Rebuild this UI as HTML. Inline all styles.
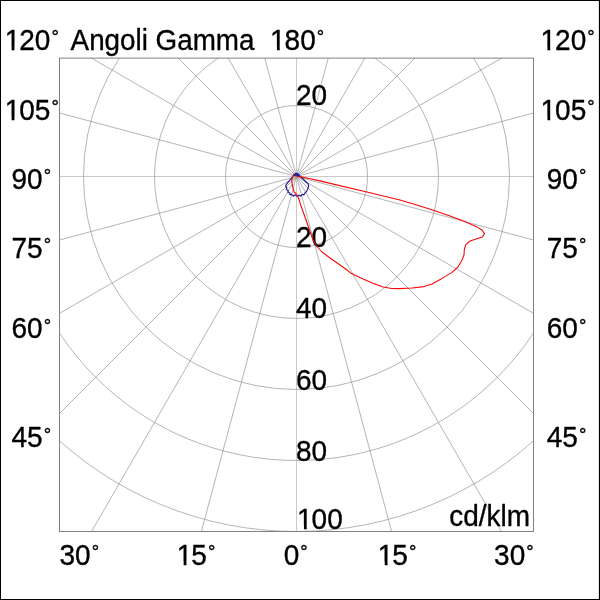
<!DOCTYPE html><html><head><meta charset="utf-8"><title>Angoli Gamma</title>
<style>html,body{margin:0;padding:0;background:#fff;overflow:hidden}svg{display:block}text{font-family:"Liberation Sans",Arial,Helvetica,sans-serif;fill:#000}</style></head><body>
<svg width="600" height="600" viewBox="0 0 600 600">
<rect x="0" y="0" width="600" height="600" fill="#fff"/>
<defs><clipPath id="c"><rect x="59.5" y="58.1" width="474.0" height="473.4"/></clipPath></defs>
<g clip-path="url(#c)" fill="none" stroke="#959595" stroke-width="0.7">
<circle cx="296.5" cy="176.5" r="71.00"/>
<circle cx="296.5" cy="176.5" r="142.00"/>
<circle cx="296.5" cy="176.5" r="213.00"/>
<circle cx="296.5" cy="176.5" r="284.00"/>
<circle cx="296.5" cy="176.5" r="355.00"/>
<line x1="296.50" y1="-723.50" x2="296.50" y2="1076.50" stroke-width="0.5"/>
<line x1="63.56" y1="-692.83" x2="529.44" y2="1045.83"/>
<line x1="-153.50" y1="-602.92" x2="746.50" y2="955.92"/>
<line x1="-339.90" y1="-459.90" x2="932.90" y2="812.90"/>
<line x1="-482.92" y1="-273.50" x2="1075.92" y2="626.50"/>
<line x1="-572.83" y1="-56.44" x2="1165.83" y2="409.44"/>
<line x1="-603.50" y1="176.50" x2="1196.50" y2="176.50" stroke-width="0.5"/>
<line x1="-572.83" y1="409.44" x2="1165.83" y2="-56.44"/>
<line x1="-482.92" y1="626.50" x2="1075.92" y2="-273.50"/>
<line x1="-339.90" y1="812.90" x2="932.90" y2="-459.90"/>
<line x1="-153.50" y1="955.92" x2="746.50" y2="-602.92"/>
<line x1="63.56" y1="1045.83" x2="529.44" y2="-692.83"/>
</g>
<rect x="59.5" y="58.1" width="474.0" height="473.4" fill="none" stroke="#808080" stroke-width="1"/>
<defs><filter id="gs" x="0" y="0" width="600" height="600" filterUnits="userSpaceOnUse"><feColorMatrix type="saturate" values="0"/></filter></defs>
<g filter="url(#gs)" stroke="#000" stroke-width="0.35" stroke-linejoin="round">
<defs><clipPath id="k1" clipPathUnits="userSpaceOnUse"><path clip-rule="evenodd" d="M-50 -60H900V40H-50Z M2.294 -3.052H8.192V2H2.294Z M11.037 -3.052H16.711V2H11.037Z"/></clipPath></defs>
<text transform="translate(3.70,49.80) scale(0.9722,1)" font-size="28.8" clip-path="url(#k1)"><tspan dx="1.1">1</tspan><tspan dx="-1.1">20</tspan></text>
<text x="51.52" y="43.32" font-size="18.5">°</text>
<text transform="translate(70.60,49.80) scale(0.9654,1)" font-size="28.8">Angoli Gamma</text>
<text transform="translate(269.00,49.80) scale(0.9722,1)" font-size="28.8" clip-path="url(#k1)"><tspan dx="1.1">1</tspan><tspan dx="-1.1">80</tspan></text>
<text x="316.82" y="43.32" font-size="18.5">°</text>
<text transform="translate(539.50,49.80) scale(0.9722,1)" font-size="28.8" clip-path="url(#k1)"><tspan dx="1.1">1</tspan><tspan dx="-1.1">20</tspan></text>
<text x="587.32" y="43.32" font-size="18.5">°</text>
<text transform="translate(3.70,119.70) scale(0.9722,1)" font-size="28.8" clip-path="url(#k1)"><tspan dx="1.1">1</tspan><tspan dx="-1.1">05</tspan></text>
<text x="51.52" y="113.22" font-size="18.5">°</text>
<text transform="translate(539.50,119.70) scale(0.9722,1)" font-size="28.8" clip-path="url(#k1)"><tspan dx="1.1">1</tspan><tspan dx="-1.1">05</tspan></text>
<text x="587.32" y="113.22" font-size="18.5">°</text>
<text transform="translate(11.40,188.50) scale(0.9722,1)" font-size="28.8">90</text>
<text x="43.65" y="182.02" font-size="18.5">°</text>
<text transform="translate(546.80,188.50) scale(0.9722,1)" font-size="28.8">90</text>
<text x="579.05" y="182.02" font-size="18.5">°</text>
<text transform="translate(11.40,257.80) scale(0.9722,1)" font-size="28.8">75</text>
<text x="43.65" y="251.32" font-size="18.5">°</text>
<text transform="translate(546.80,257.80) scale(0.9722,1)" font-size="28.8">75</text>
<text x="579.05" y="251.32" font-size="18.5">°</text>
<text transform="translate(11.40,338.00) scale(0.9722,1)" font-size="28.8">60</text>
<text x="43.65" y="331.52" font-size="18.5">°</text>
<text transform="translate(546.80,338.00) scale(0.9722,1)" font-size="28.8">60</text>
<text x="579.05" y="331.52" font-size="18.5">°</text>
<text transform="translate(11.40,447.00) scale(0.9722,1)" font-size="28.8">45</text>
<text x="43.65" y="440.52" font-size="18.5">°</text>
<text transform="translate(546.80,447.00) scale(0.9722,1)" font-size="28.8">45</text>
<text x="579.05" y="440.52" font-size="18.5">°</text>
<text transform="translate(59.40,564.80) scale(0.9722,1)" font-size="28.8">30</text>
<text x="91.65" y="558.32" font-size="18.5">°</text>
<text transform="translate(175.70,564.80) scale(0.9722,1)" font-size="28.8" clip-path="url(#k1)"><tspan dx="1.1">1</tspan><tspan dx="-1.1">5</tspan></text>
<text x="207.95" y="558.32" font-size="18.5">°</text>
<text transform="translate(283.70,564.80) scale(0.9722,1)" font-size="28.8">0</text>
<text x="300.37" y="558.32" font-size="18.5">°</text>
<text transform="translate(376.80,564.80) scale(0.9722,1)" font-size="28.8" clip-path="url(#k1)"><tspan dx="1.1">1</tspan><tspan dx="-1.1">5</tspan></text>
<text x="409.05" y="558.32" font-size="18.5">°</text>
<text transform="translate(494.10,564.80) scale(0.9722,1)" font-size="28.8">30</text>
<text x="526.35" y="558.32" font-size="18.5">°</text>
<text transform="translate(296.00,105.10) scale(0.9722,1)" font-size="28.8">20</text>
<text transform="translate(296.00,246.50) scale(0.9722,1)" font-size="28.8">20</text>
<text transform="translate(296.00,317.60) scale(0.9722,1)" font-size="28.8">40</text>
<text transform="translate(296.00,390.10) scale(0.9722,1)" font-size="28.8">60</text>
<text transform="translate(296.00,461.30) scale(0.9722,1)" font-size="28.8">80</text>
<text transform="translate(296.00,528.50) scale(0.9722,1)" font-size="28.8" clip-path="url(#k1)"><tspan dx="1.1">1</tspan><tspan dx="-1.1">00</tspan></text>
<text transform="translate(449.20,526.30) scale(0.9722,1)" font-size="28.8">cd/klm</text>
</g>
<g clip-path="url(#c)" fill="none" stroke-linejoin="round">
<polyline stroke="#261e96" stroke-width="1.2" points="293,176.3 286.3,184.3 285.6,186.4 286.9,187.9 286.3,189.5 288.2,190.5 288.0,192.5 289.9,192.8 289.8,194.6 291.7,194.4 293.3,196.2 295,194.8 297,196.4 299,195.1 300.7,196.2 302.3,194.4 303.8,195.0 304.8,193.2 306.0,192.0 306.8,190.8 307.7,189.2 308.0,187.8 308.7,186.3 308.4,185 308,183.7 300,176.3"/>
<polyline stroke="#f80808" stroke-width="1.1" points="293.6,174.3 295.5,175.6 298.5,176.4 302,177.1 310,178.8 320,180.9 333.3,184.1 365.8,191.7 400,200 420,206 434,210.4 450,216 466,222 476,226.4 482,230 484.4,233.6 482.4,237 476,239 470,241 466,244.4 464.4,249 464,255 462,260 458,267 452,272.4 442,278.4 432,284 424,286.6 412,288 400,288.6 391.8,288.5 383.1,287 372.3,283.1 361.5,278.3 350.6,272.9 345,268.5 330,258 322,252 317,246.5 313,240 308.5,227 302.5,210 300.7,205 299.3,200.3 297.7,196.3 295.7,193.2 294.2,192.2 293.3,189 292.3,185 291.7,181 292.3,178.3 293.6,174.3"/>
<path d="M293.9 175.7L294.3 174.0L295.8 173.1L298 173.4L299.5 174.7L299.8 176.1L297.5 175.7L295.6 175.5Z" fill="#261e96" stroke="#261e96" stroke-width="0.7"/>
</g>
<path d="M0 0H600V600H0Z M1.0 1.0V598.9H598.9V1.0Z" fill="#000" fill-rule="evenodd"/>
</svg></body></html>
